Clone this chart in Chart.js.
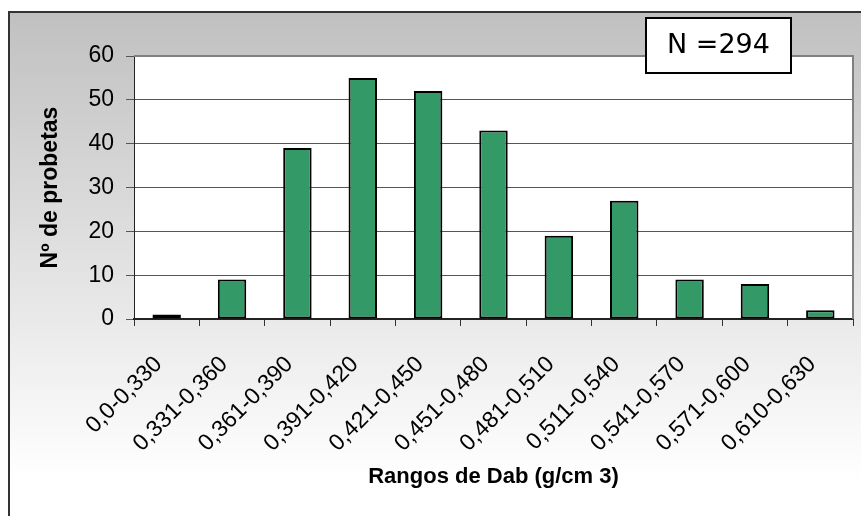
<!DOCTYPE html>
<html>
<head>
<meta charset="utf-8">
<script src="https://cdn.jsdelivr.net/npm/chart.js@4"></script>
<style>
  html, body { margin: 0; padding: 0; background: #ffffff; }
  #wrap { width: 861px; height: 516px; position: relative; }
</style>
</head>
<body>
<div id="wrap"><canvas id="c" width="861" height="516"></canvas></div>
<script>
// Density classes (g/cm3) and number of specimens in each class
const rangos = ['0,0-0,330', '0,331-0,360', '0,361-0,390', '0,391-0,420', '0,421-0,450',
                '0,451-0,480', '0,481-0,510', '0,511-0,540', '0,541-0,570', '0,571-0,600', '0,610-0,630'];
const probetas = [1, 9, 39, 55, 52, 43, 19, 27, 9, 8, 2];
const totalLabel = 'N =294';
const yTitle = 'Nº de probetas';
const xTitle = 'Rangos de Dab (g/cm 3)';

const SANS = '"Liberation Sans", Arial, sans-serif';

// Grey-to-white frame behind the chart, white plot area, and the N box
const framePlugin = {
  id: 'frame',
  beforeDraw(chart) {
    const { ctx, width, height, chartArea: a } = chart;
    ctx.save();
    ctx.fillStyle = '#ffffff';
    ctx.fillRect(0, 0, width, height);
    const g = ctx.createLinearGradient(0, 12, 0, 480);
    g.addColorStop(0, '#c0c0c0');
    g.addColorStop(1, '#ffffff');
    ctx.fillStyle = g;
    ctx.fillRect(9, 12, width - 9, height - 12);
    ctx.strokeStyle = '#333333';
    ctx.lineWidth = 2;
    ctx.beginPath();
    ctx.moveTo(9, height);
    ctx.lineTo(9, 12);
    ctx.lineTo(width, 12);
    ctx.stroke();
    ctx.fillStyle = '#ffffff';
    ctx.fillRect(a.left, a.top, a.right - a.left, a.bottom - a.top);
    ctx.restore();
  },
  afterDraw(chart) {
    const { ctx, chartArea: a } = chart;
    ctx.save();
    ctx.strokeStyle = '#808080';
    ctx.lineWidth = 2;
    ctx.beginPath();
    ctx.moveTo(a.left, a.top);
    ctx.lineTo(a.right, a.top);
    ctx.lineTo(a.right, a.bottom);
    ctx.stroke();
    // N box
    const bx = 646, by = 18, bw = 145, bh = 55;
    ctx.fillStyle = '#ffffff';
    ctx.fillRect(bx, by, bw, bh);
    ctx.strokeStyle = '#000000';
    ctx.lineWidth = 2;
    ctx.strokeRect(bx, by, bw, bh);
    ctx.fillStyle = '#000000';
    ctx.font = '27px "DejaVu Sans", Verdana, sans-serif';
    ctx.textAlign = 'center';
    ctx.textBaseline = 'middle';
    ctx.fillText(totalLabel, bx + bw / 2, by + bh / 2);
    ctx.restore();
  }
};

new Chart(document.getElementById('c'), {
  type: 'bar',
  data: {
    labels: rangos,
    datasets: [{
      data: probetas,
      backgroundColor: '#339966',
      borderColor: '#000000',
      borderWidth: 2,
      borderSkipped: false,
      categoryPercentage: 1,
      barPercentage: 0.435
    }]
  },
  options: {
    responsive: false,
    animation: false,
    devicePixelRatio: 1,
    layout: { padding: { left: 33, top: 56, right: 8, bottom: 22 } },
    plugins: { legend: { display: false }, tooltip: { enabled: false } },
    scales: {
      x: {
        grid: { offset: true, drawOnChartArea: false, drawTicks: true, tickLength: 7, color: '#333333', lineWidth: 1 },
        border: { color: '#222222', width: 2 },
        ticks: { color: '#000000', font: { family: SANS, size: 23 }, minRotation: 45, maxRotation: 45, autoSkip: false, padding: 25, labelOffset: -8 },
        title: { display: true, text: xTitle, color: '#000000', font: { family: SANS, size: 22, weight: 'bold' } },
        afterFit(s) { s.height = 175; s.paddingLeft = 0; s.paddingRight = 0; }
      },
      y: {
        min: 0, max: 60,
        grid: { color: '#555555', lineWidth: 1, tickLength: 8 },
        border: { color: '#222222', width: 1 },
        ticks: { stepSize: 10, color: '#000000', font: { family: SANS, size: 23 }, padding: 12 },
        title: { display: true, text: yTitle, color: '#000000', font: { family: SANS, size: 23, weight: 'bold' } },
        afterFit(s) { s.width = 101; }
      }
    }
  },
  plugins: [framePlugin]
});
</script>
</body>
</html>
